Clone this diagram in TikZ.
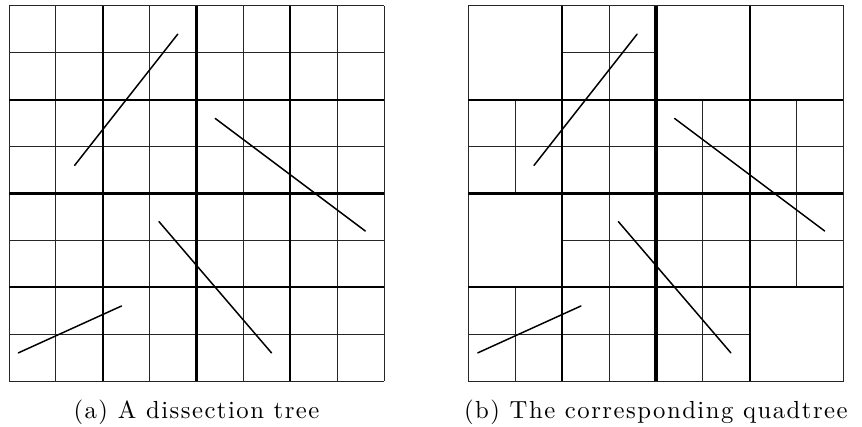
\documentclass[tikz,border=0pt]{standalone}
\usepackage{fontspec}
\newfontfamily\capfont{lmroman10-regular.otf}[LetterSpace=6.0]
\begin{document}
\begin{tikzpicture}[x=1cm,y=1cm,
  thinline/.style={line width=0.6pt,black!85},
  midline/.style={line width=1.25pt,black},
  thickline/.style={line width=2pt,black},
  segline/.style={line width=0.9pt,black,line cap=round},
  captext/.style={anchor=base,font=\capfont\fontsize{15}{18}\selectfont}]
\useasboundingbox (-0.192,-0.96) rectangle (18.197,8.128);
% ---------- (a) dissection tree ----------
\begin{scope}
  \foreach \i in {0,1,3,5,7,8} {
    \draw[thinline] (\i,0) -- (\i,8);
    \draw[thinline] (0,\i) -- (8,\i);
  }
  \foreach \i in {2,6} {
    \draw[midline] (\i,0) -- (\i,8);
    \draw[midline] (0,\i) -- (8,\i);
  }
  \draw[thickline] (4,0) -- (4,8);
  \draw[thickline] (0,4) -- (8,4);
  \draw[segline] (1.4,4.6) -- (3.6,7.4);
  \draw[segline] (4.4,5.6) -- (7.6,3.2);
  \draw[segline] (3.2,3.4) -- (5.6,0.6);
  \draw[segline] (0.2,0.6) -- (2.4,1.6);
  \node[captext] (capa) at (4,-0.81) {(a) A dissection tree};
\end{scope}
% ---------- (b) quadtree ----------
\begin{scope}[xshift=9.8cm]
  \draw[thinline] (0,0) rectangle (8,8);
  \foreach \a/\b in {2/6,0/4,2/4,4/4,6/4,2/2,0/0,2/0,4/2,6/2,4/0} {
    \draw[thinline] (\a+1,\b) -- (\a+1,\b+2);
    \draw[thinline] (\a,\b+1) -- (\a+2,\b+1);
  }
  \foreach \i in {2,6} {
    \draw[midline] (\i,0) -- (\i,8);
    \draw[midline] (0,\i) -- (8,\i);
  }
  \draw[thickline] (4,0) -- (4,8);
  \draw[thickline] (0,4) -- (8,4);
  \draw[segline] (1.4,4.6) -- (3.6,7.4);
  \draw[segline] (4.4,5.6) -- (7.6,3.2);
  \draw[segline] (3.2,3.4) -- (5.6,0.6);
  \draw[segline] (0.2,0.6) -- (2.4,1.6);
  \node[captext] (capb) at (4,-0.81) {(b) The corresponding quadtree};
\end{scope}
\end{tikzpicture}
\end{document}
